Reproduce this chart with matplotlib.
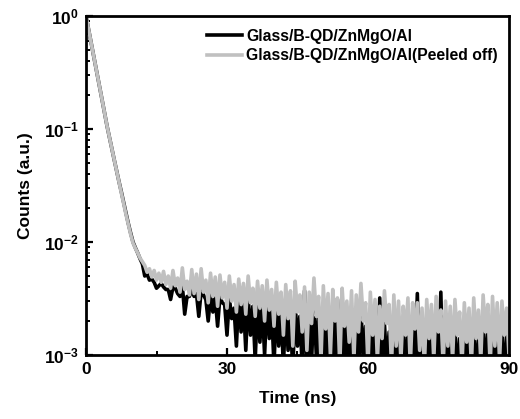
import numpy as np
import matplotlib
matplotlib.use("Agg")
import matplotlib.pyplot as plt
from matplotlib.ticker import FixedLocator, LogLocator, NullFormatter, FuncFormatter

plt.rcParams["font.family"] = ["Liberation Sans", "DejaVu Sans"]
plt.rcParams["font.weight"] = "bold"
plt.rcParams["mathtext.fontset"] = "custom"
plt.rcParams["mathtext.rm"] = "Liberation Sans:bold"
plt.rcParams["mathtext.bf"] = "Liberation Sans:bold"
plt.rcParams["mathtext.it"] = "Liberation Sans:bold:italic"

# Time axis in ns, 0.5 ns bins
time_ns = np.arange(0, 90.0 + 0.25, 0.5)

# Early decay (0 - 12 ns)
decay_black = [1.0, 0.78, 0.61, 0.47, 0.367, 0.286, 0.223, 0.174, 0.135, 0.105,
               0.0836, 0.0668, 0.0535, 0.0428, 0.0345, 0.0280, 0.0224, 0.0181, 0.0146, 0.0120,
               0.0100, 0.0089, 0.0080, 0.0071, 0.0064]
decay_gray = [1.0, 0.78, 0.61, 0.47, 0.367, 0.286, 0.223, 0.174, 0.135, 0.105,
              0.0836, 0.0668, 0.0535, 0.0428, 0.0342, 0.0274, 0.0219, 0.0176, 0.0143, 0.0117,
              0.0098, 0.0088, 0.0080, 0.0072, 0.0067]

# Tail (12.5 - 90 ns), counts in units of 1e-3
tail_black_milli = [
    5.0, 5.2, 4.6, 4.7, 4.4, 3.9, 4.1, 4.3, 4.0, 3.8,
    3.8, 3.1, 4.0, 3.9, 3.5, 3.3, 4.1, 2.3, 3.3, 3.3,
    3.8, 3.3, 3.5, 2.2, 3.7, 3.4, 3.1, 2.0, 3.4, 2.4,
    3.2, 1.8, 3.3, 2.9, 2.8, 1.5, 3.2, 2.1, 2.6, 1.2,
    3.3, 1.6, 2.9, 1.1, 3.4, 1.5, 2.7, 0.9, 3.0, 1.3,
    2.8, 1.0, 3.1, 1.4, 2.5, 0.8, 2.9, 1.2, 2.4, 0.8,
    2.7, 1.1, 2.3, 0.7, 3.0, 1.2, 2.2, 0.8, 3.7, 0.7,
    2.4, 0.9, 3.0, 1.0, 2.1, 0.6, 2.6, 0.8, 2.2, 0.6,
    2.5, 0.9, 3.1, 0.6, 2.4, 0.8, 1.9, 0.6, 2.3, 0.5,
    2.0, 0.7, 2.6, 0.9, 1.8, 0.5, 2.2, 0.6, 1.7, 0.5,
    3.2, 0.6, 1.9, 0.8, 1.6, 0.5, 2.0, 0.6, 1.7, 0.5,
    1.6, 0.6, 1.9, 0.5, 1.7, 0.7, 3.5, 0.5, 1.5, 0.5,
    1.8, 0.6, 1.6, 0.5, 2.6, 0.7, 3.6, 0.5, 1.7, 0.6,
    1.5, 0.5, 1.8, 0.6, 1.4, 0.5, 1.7, 0.6, 1.5, 0.5,
    1.8, 0.6, 1.4, 0.5, 1.9, 0.7, 1.6, 0.5, 1.8, 0.6,
    1.6, 0.5, 1.7, 0.6, 1.5, 0.5,
]
tail_gray_milli = [
    6.2, 5.4, 5.8, 4.9, 5.6, 4.6, 5.3, 4.4, 5.5, 4.2,
    5.0, 3.9, 5.6, 4.1, 4.8, 3.6, 5.9, 3.8, 4.5, 3.4,
    5.7, 3.5, 5.2, 3.1, 5.8, 3.6, 4.6, 2.9, 5.3, 3.3,
    4.9, 2.7, 5.1, 3.2, 4.4, 2.6, 5.0, 3.0, 4.2, 2.4,
    4.7, 2.8, 4.3, 2.3, 5.0, 2.9, 3.9, 2.2, 4.5, 2.6,
    4.1, 2.0, 4.6, 2.5, 3.8, 1.8, 4.4, 2.3, 3.6, 1.5,
    4.2, 2.1, 3.7, 1.2, 4.5, 2.4, 3.4, 1.6, 4.0, 1.1,
    3.6, 1.9, 4.8, 2.2, 3.3, 0.9, 4.1, 1.7, 3.5, 1.0,
    3.8, 2.0, 3.2, 0.8, 3.9, 1.8, 3.0, 1.3, 3.7, 0.9,
    3.4, 1.6, 4.3, 2.0, 2.9, 0.8, 3.6, 1.5, 3.1, 0.9,
    2.7, 1.4, 3.7, 1.9, 2.8, 0.8, 3.4, 1.2, 3.0, 0.9,
    2.7, 1.5, 3.2, 0.8, 2.9, 1.7, 2.9, 1.1, 2.6, 0.8,
    3.1, 1.4, 2.8, 0.9, 3.3, 1.6, 2.5, 0.8, 3.0, 1.2,
    2.7, 0.9, 3.1, 1.5, 2.4, 0.8, 2.9, 1.3, 2.6, 0.8,
    3.2, 1.4, 2.5, 0.9, 3.4, 1.6, 2.8, 0.8, 3.3, 1.2,
    2.9, 0.9, 3.0, 1.5, 2.6, 1.0,
]

series_labels = ["Glass/B-QD/ZnMgO/Al", "Glass/B-QD/ZnMgO/Al(Peeled off)"]
x_ticks = [0, 30, 60, 90]

counts_black = np.array(decay_black + [v * 1e-3 for v in tail_black_milli])
counts_gray = np.array(decay_gray + [v * 1e-3 for v in tail_gray_milli])

fig = plt.figure(figsize=(5.2, 4.19), dpi=100)
ax = fig.add_axes([0.1654, 0.1527, 0.8134, 0.8091])

ax.plot(time_ns, counts_black, color="black", lw=2.6, label=series_labels[0])
ax.plot(time_ns, counts_gray, color="#c0c0c0", lw=2.6, label=series_labels[1])

ax.set_yscale("log")
ax.set_xlim(0, 90)
ax.set_ylim(1e-3, 1)

ax.xaxis.set_major_locator(FixedLocator(x_ticks))
ax.xaxis.set_minor_locator(FixedLocator([15, 45, 75]))
ax.yaxis.set_major_locator(LogLocator(base=10, numticks=10))
ax.yaxis.set_minor_locator(LogLocator(base=10, subs=np.arange(2, 10), numticks=10))
ax.yaxis.set_minor_formatter(NullFormatter())
ax.yaxis.set_major_formatter(FuncFormatter(lambda v, p: r"$10^{%d}$" % int(round(np.log10(v)))))

ax.tick_params(axis="both", which="major", direction="in", length=5, width=1.6,
               labelsize=12.5, top=False, right=False, pad=5)
ax.tick_params(axis="both", which="minor", direction="in", length=3, width=1.4,
               top=False, right=False)
for lab in ax.get_xticklabels() + ax.get_yticklabels():
    lab.set_fontweight("bold")

for sp in ax.spines.values():
    sp.set_linewidth(2.0)

ax.set_xlabel("Time (ns)", fontsize=12.5, fontweight="bold", labelpad=10)
ax.set_ylabel("Counts (a.u.)", fontsize=12.5, fontweight="bold", labelpad=8)

leg = ax.legend(loc="upper right", bbox_to_anchor=(1.0, 0.995), frameon=False,
                prop={"weight": "bold", "size": 11.3}, handlelength=2.2,
                handletextpad=0.3, labelspacing=0.28, borderaxespad=0.3)
for line in leg.get_lines():
    line.set_linewidth(2.6)

fig.savefig("out.png", dpi=100)
